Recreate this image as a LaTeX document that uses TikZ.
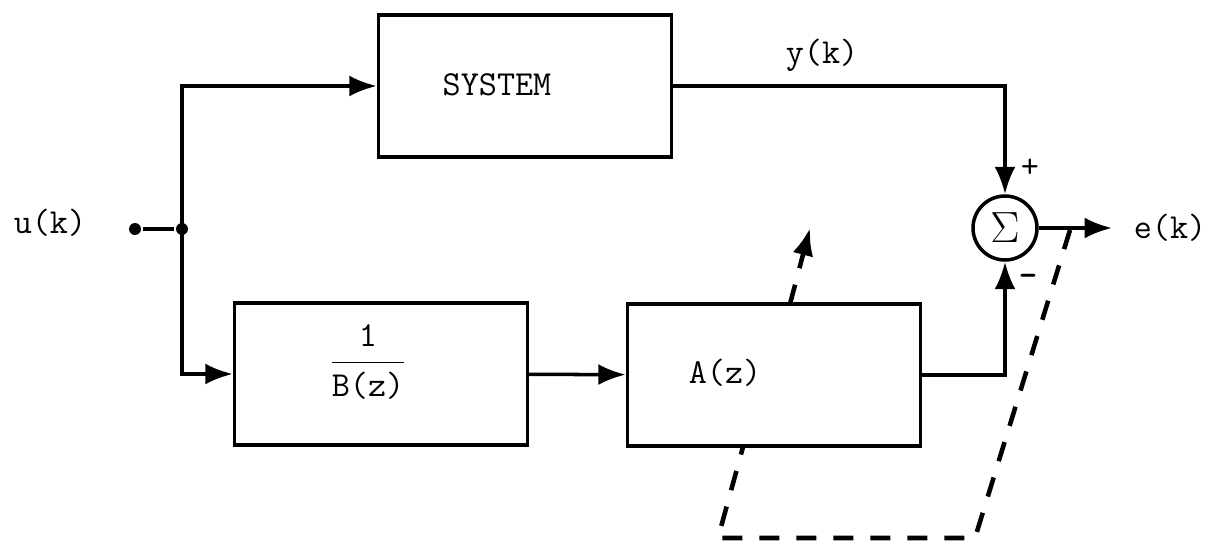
\documentclass[tikz,border=0pt]{standalone}
\usepackage{fontspec}
\usetikzlibrary{arrows.meta,positioning,calc}

\begin{document}
\begin{tikzpicture}[x=0.02cm, y=-0.02cm, line width=2pt,
  font=\ttfamily\fontsize{20}{23}\selectfont,
  blk/.style={draw, minimum width=5.86cm, minimum height=2.84cm, inner sep=0pt},
  sig/.style={-{Latex[length=0.55cm,width=0.42cm]}},
  fb/.style={line width=2.6pt, dash pattern=on 0.4cm off 0.34cm},
  pt/.style={circle, fill, inner sep=0pt, minimum size=0.24cm}]
  \useasboundingbox (0,0) rectangle (1211,544);
  % blocks
  \node[blk] (sys) at (525,86) {};
  \node (systxt) at (497,85) {SYSTEM};
  \node[blk] (binv) at (381,374) {};
  \node (binvtxt) at (368,362) {$\displaystyle\frac{\texttt{1}}{\texttt{B(z)}}$};
  \node[blk] (az) at (774,375) {};
  \node (aztxt) at (725,373) {A(z)};
  \node[draw, circle, minimum size=1.28cm, inner sep=0pt] (sum) at (1005,228)
    {\fontsize{34}{36}\selectfont$\Sigma$};
  % signals
  \node (u) at (50,223) {u(k)};
  \node[pt] (uend) at (135,229) {};
  \node[pt] (split) at (182,229) {};
  \node (y) at (822,55) {y(k)};
  \node (e) at (1170,228) {e(k)};
  \node (plus) at (1030,168) {+};
  \node (minus) at (1028,280) {\textbf{-}};
  \coordinate (eout) at (1112,228);
  \draw (uend) -- (split);
  \draw[sig] (split.center) |- (sys.west);
  \draw[sig] (split.center) |- (binv.west);
  \draw[sig] (binv) -- (az);
  \draw[sig] (sys.east) -| (sum.north);
  \draw[sig] (az.east) -| (sum.south);
  \draw[sig] (sum.east) -- (eout);
  % adjustment (dashed)
  \coordinate (azin) at (790,304);
  \coordinate (adj) at (810,228);
  \draw[fb,sig] (azin) -- (adj);
  \coordinate (etap) at (1070,230);
  \coordinate (fbr) at (975,538);
  \coordinate (fbl) at (718,538);
  \coordinate (azout) at (743,447);
  \draw[fb] (etap) -- (fbr) -- (fbl) -- (azout);
\end{tikzpicture}
\end{document}
